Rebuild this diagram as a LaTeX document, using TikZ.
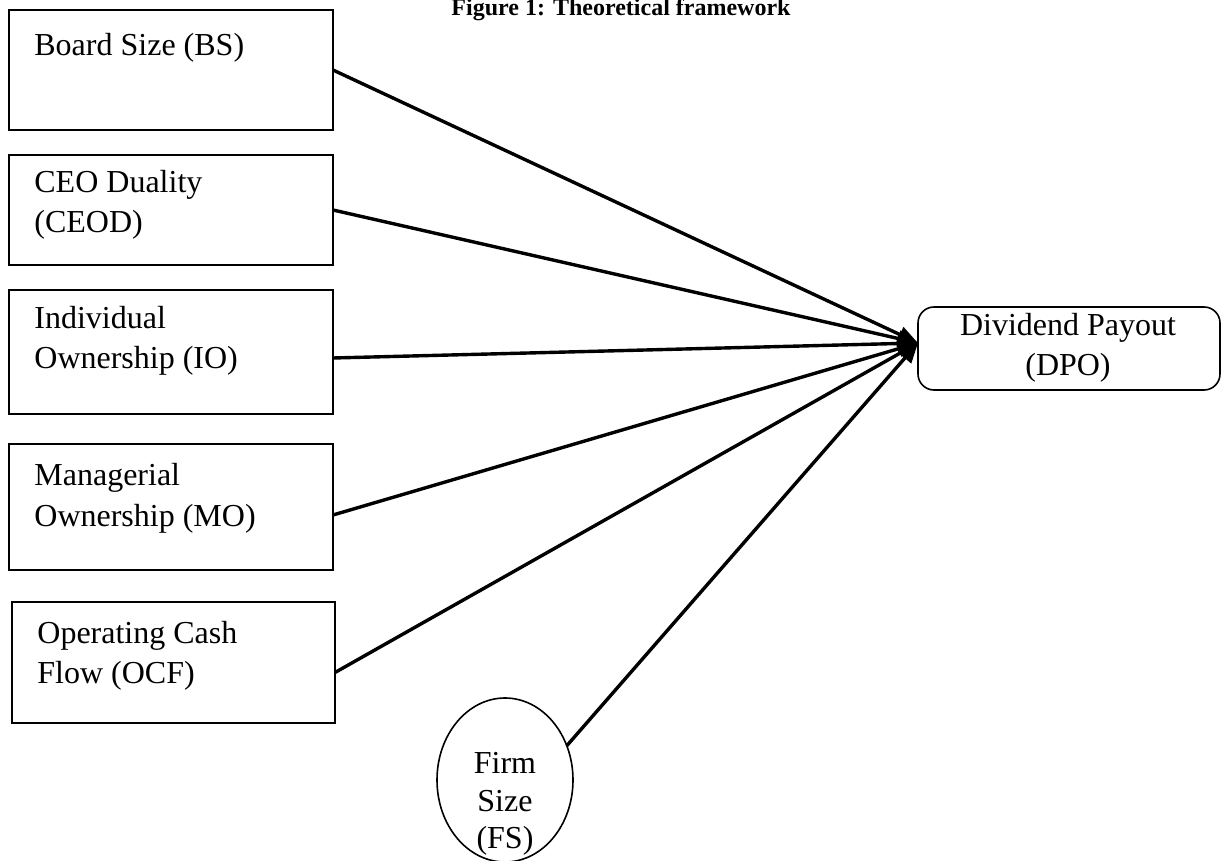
\documentclass[tikz,border=0pt]{standalone}
\usepackage{fontspec}
\setmainfont{Liberation Serif}
\usetikzlibrary{arrows.meta,shapes.geometric,calc}
\begin{document}
\begin{tikzpicture}[x=0.5pt,y=-0.5pt,
  box/.style={draw,line width=0.8pt,rectangle,inner sep=0pt,outer sep=0pt},
  lbl/.style={anchor=base west,inner sep=0pt,font=\fontsize{16}{19}\selectfont},
  clbl/.style={anchor=base,inner sep=0pt,font=\fontsize{16}{19}\selectfont},
  conn/.style={line width=1.7pt,-{Triangle[length=10pt,width=8pt]}}]
\useasboundingbox (0,0) rectangle (1222,861);
\node[anchor=base,inner sep=0pt,font=\bfseries\fontsize{12}{14}\selectfont] (title) at (621,16) {Figure 1: Theoretical framework};
% boxes
\node[box,minimum width=162pt,minimum height=60pt] (bs) at (171,70) {};
\node[box,minimum width=162pt,minimum height=55pt] (ceod) at (171,210) {};
\node[box,minimum width=162pt,minimum height=62pt] (io) at (171,352) {};
\node[box,minimum width=162pt,minimum height=63pt] (mo) at (171,507) {};
\node[box,minimum width=161.5pt,minimum height=60.5pt] (ocf) at (173.5,662.5) {};
\node[draw,line width=0.8pt,ellipse,inner sep=0pt,outer sep=0pt,minimum width=68pt,minimum height=82pt] (fs) at (505,780) {};
\node[box,rounded corners=8pt,minimum width=151pt,minimum height=41.5pt] (dpo) at (1069,348.5) {};
% labels
\node[lbl] (bst) at (34,56) {Board Size (BS)};
\node[lbl] (ceodt1) at (34,193) {CEO Duality};
\node[lbl] (ceodt2) at (34,233) {(CEOD)};
\node[lbl] (iot1) at (34,329) {Individual};
\node[lbl] (iot2) at (34,369) {Ownership (IO)};
\node[lbl] (mot1) at (34,486) {Managerial};
\node[lbl] (mot2) at (34,526) {Ownership (MO)};
\node[lbl] (ocft1) at (37,643) {Operating Cash};
\node[lbl] (ocft2) at (37,683) {Flow (OCF)};
\node[clbl] (dpot1) at (1068,336) {Dividend Payout};
\node[clbl] (dpot2) at (1068,376) {(DPO)};
\node[clbl] (fst1) at (505,773) {Firm};
\node[clbl] (fst2) at (505,811) {Size};
\node[clbl] (fst3) at (505,848) {(FS)};
% connectors
\coordinate (tip) at ($(dpo.west)+(0,-5.5)$);
\draw[conn] (bs.east) -- (tip);
\draw[conn] (ceod.east) -- (tip);
\draw[conn] ($(io.east)+(0,6)$) -- (tip);
\draw[conn] ($(mo.east)+(0,8)$) -- (tip);
\draw[conn] ($(ocf.east)+(0,10)$) -- (tip);
\draw[conn] (fs.29) -- (tip);
\end{tikzpicture}
\end{document}
